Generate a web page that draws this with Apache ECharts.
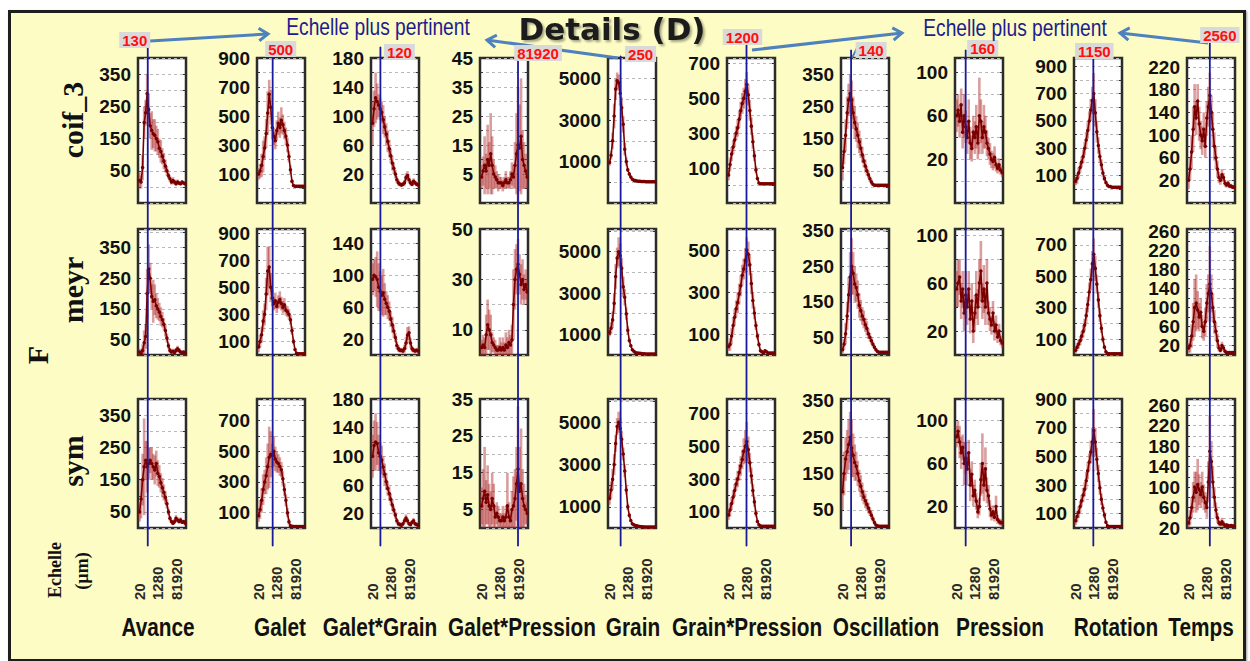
<!DOCTYPE html>
<html>
<head>
<meta charset="utf-8">
<title>Details (D)</title>
<script src="https://cdn.jsdelivr.net/npm/echarts@6/dist/echarts.min.js"></script>
<style>
  html, body { margin: 0; padding: 0; background: #ffffff; }
  #frame { position: absolute; left: 8px; top: 10px; width: 1232px; height: 646px;
           background: #fdfcc5; border: 3px solid #1e1e1e; box-shadow: 1px 1px 2px rgba(0,0,0,0.4); }
  #chart { position: absolute; left: 0; top: 0; width: 1250px; height: 661px; }
</style>
</head>
<body>
<div id="frame"></div>
<div id="chart"></div>
<script>
// ---- scales (µm) shared by every panel ----
const scales = [20, 28, 40, 57, 80, 113, 160, 226, 320, 453, 640, 905, 1280, 1810, 2560, 3620,
  5120, 7241, 10240, 14482, 20480, 28963, 40960, 57926, 81920, 115852, 163840, 231705, 327680, 463410, 655360];
const scaleTicks = [20, 1280, 81920];

const columns = ['Avance', 'Galet', 'Galet*Grain', 'Galet*Pression', 'Grain', 'Grain*Pression',
  'Oscillation', 'Pression', 'Rotation', 'Temps'];
const families = ['coif_3', 'meyr', 'sym'];
const bestScale = [130, 500, 120, 81920, 250, 1200, 140, 160, 1150, 2560];

// ---- F per scale : mean and error, one pair per factor and wavelet ----
const avanceCoif = [20,15,60,200,230,290,240,190,175,165,160,150,140,120,110,95,80,65,50,35,25,15,20,15,10,15,12,10,15,12,10];
const avanceCoifErr = [25,20,40,50,40,60,50,40,60,45,50,40,40,30,35,25,25,20,15,10,10,8,10,8,6,8,6,5,6,5,5];
const avanceMeyr = [10,5,15,40,60,200,280,250,190,175,180,160,150,140,125,115,100,80,55,30,15,10,12,8,15,20,15,10,8,10,6];
const avanceMeyrErr = [10,8,20,40,40,80,80,50,40,70,50,40,35,30,30,25,20,20,15,10,8,6,8,6,8,10,8,6,5,5,4];
const avanceSym = [50,90,150,190,210,190,200,210,200,190,180,200,170,160,140,125,110,95,75,50,30,20,15,20,30,25,20,25,18,20,15];
const avanceSymErr = [30,60,80,150,60,80,50,40,50,40,45,40,40,35,30,30,25,20,15,10,8,6,6,8,10,8,6,8,5,5,5];

const galetCoif = [100,120,160,220,280,380,520,650,560,420,360,330,400,450,420,470,440,400,360,300,220,130,50,20,15,15,15,15,15,15,15];
const galetCoifErr = [40,50,80,110,80,100,150,100,120,80,60,60,70,80,70,90,70,60,60,50,40,30,15,8,5,5,5,5,5,5,5];
const galetMeyr = [60,100,150,250,300,450,620,650,500,420,380,400,360,390,410,380,350,370,330,320,300,260,180,100,40,12,10,10,10,10,10];
const galetMeyrErr = [40,50,60,80,80,120,180,150,100,60,50,60,50,50,60,50,45,50,40,40,40,35,30,20,10,5,4,4,4,4,4];
const galetSym = [80,120,180,250,300,340,400,460,480,470,500,450,430,420,400,380,320,250,180,100,40,15,12,10,10,10,10,10,10,10,10];
const galetSymErr = [40,60,80,100,80,120,150,200,150,80,100,80,70,60,60,50,50,40,40,30,20,8,5,5,5,5,5,5,5,5,5];

const galetGrainCoif = [90,110,125,120,115,110,105,95,85,75,65,55,45,35,28,20,12,8,6,5,6,8,15,18,12,8,6,10,8,6,5];
const galetGrainCoifErr = [30,25,35,25,15,15,15,20,15,15,15,12,10,10,8,6,5,4,3,3,3,4,6,6,5,4,3,4,3,3,3];
const galetGrainMeyr = [95,100,98,95,85,80,75,78,70,65,60,55,45,38,30,22,12,8,6,6,5,8,15,25,28,15,8,6,5,6,5];
const galetGrainMeyrErr = [20,20,25,35,30,25,25,30,20,15,15,12,10,10,8,6,5,4,3,3,3,5,8,10,8,6,4,3,3,3,3];
const galetGrainSym = [100,115,120,118,105,100,95,85,75,65,55,48,40,32,25,18,10,6,5,4,6,10,14,10,6,5,8,10,6,5,4];
const galetGrainSymErr = [30,35,40,30,25,20,20,15,15,12,10,10,8,8,6,5,4,3,3,3,3,4,5,4,3,3,3,4,3,3,3];

const galetPressCoif = [4,6,8,6,10,8,12,8,5,4,3,2,2,2,1,2,3,2,2,3,5,4,8,12,15,14,18,10,8,6,4];
const galetPressCoifErr = [4,5,10,6,12,8,14,10,5,4,3,3,2,2,2,2,3,2,2,3,4,4,8,14,20,15,20,10,8,6,4];
const galetPressMeyr = [3,4,3,8,12,10,8,5,4,3,2,2,3,2,3,2,4,3,5,4,6,20,30,34,36,32,28,30,26,28,25];
const galetPressMeyrErr = [3,4,4,8,10,8,8,4,3,3,2,2,4,3,4,3,5,4,5,4,6,14,12,10,10,8,8,8,6,6,5];
const galetPressSym = [6,8,10,7,9,6,5,8,6,3,4,3,2,2,3,2,3,6,3,2,5,6,8,12,16,10,12,8,6,5,4];
const galetPressSymErr = [5,8,12,6,8,6,5,7,6,3,3,3,2,2,3,2,3,9,4,3,5,8,8,10,17,12,15,8,6,4,3];

const grainCoif = [950,1300,2000,3200,4500,4900,4800,4300,3600,2800,1600,1000,600,400,250,150,100,80,60,50,50,40,40,40,30,30,30,30,30,30,30];
const grainCoifErr = [150,200,400,600,500,400,400,600,500,400,300,200,100,80,50,30,20,15,10,10,10,10,10,10,10,10,10,10,10,10,10];
const grainMeyr = [1100,1300,1700,2500,3800,4700,5000,4800,4200,3300,2800,2000,1200,700,450,250,180,120,100,90,80,70,60,60,50,50,50,50,50,50,50];
const grainMeyrErr = [200,300,400,500,600,500,700,600,500,500,400,300,200,100,60,40,30,20,15,10,10,10,10,10,10,10,10,10,10,10,10];
const grainSym = [1400,1800,2300,3000,4000,4800,5000,4700,4200,3500,2700,1800,1000,600,350,200,150,120,100,80,70,60,60,50,50,50,50,50,50,50,50];
const grainSymErr = [300,400,500,500,400,400,500,500,400,300,300,200,150,100,50,30,20,15,10,10,10,10,10,10,10,10,10,10,10,10,10];

const grainPressCoif = [60,120,180,220,260,300,330,380,430,470,500,540,580,520,430,340,250,170,90,40,15,10,10,10,10,10,10,10,10,10,10];
const grainPressCoifErr = [30,40,40,40,40,40,50,50,50,60,60,70,70,60,60,50,40,30,20,10,5,4,4,4,4,4,4,4,4,4,4];
const grainPressMeyr = [40,50,90,140,180,220,250,290,330,380,410,450,500,480,430,340,260,200,140,90,50,20,15,10,20,15,10,10,10,10,10];
const grainPressMeyrErr = [20,30,40,40,40,40,50,50,50,50,50,60,60,60,50,50,40,30,20,15,10,6,5,4,8,5,4,4,4,4,4];
const grainPressSym = [80,110,150,190,230,270,300,340,380,420,470,500,530,480,400,320,230,160,90,40,20,12,10,10,10,10,10,10,10,10,10];
const grainPressSymErr = [30,40,40,40,40,40,50,50,60,60,80,100,120,80,60,50,40,30,20,10,6,4,4,4,4,4,4,4,4,4,4];

const oscCoif = [60,110,160,230,270,290,270,230,200,180,160,140,120,100,80,65,50,38,25,15,8,5,5,5,5,5,5,5,5,5,5];
const oscCoifErr = [40,40,50,50,50,60,60,50,50,40,40,35,30,25,20,20,15,12,10,8,5,3,3,3,3,3,3,3,3,3,3];
const oscMeyr = [15,30,60,110,170,220,250,230,200,190,170,140,125,110,100,85,75,60,50,40,30,22,15,10,8,8,8,8,8,8,8];
const oscMeyrErr = [10,15,30,40,50,70,80,60,50,40,40,35,30,25,25,20,20,15,12,10,8,6,5,4,3,3,3,3,3,3,3];
const oscSym = [100,150,190,210,230,250,220,200,180,170,150,130,115,100,85,75,65,55,45,35,25,15,8,6,5,5,5,5,5,5,5];
const oscSymErr = [50,60,60,60,70,70,80,60,50,40,35,30,30,25,20,20,15,15,12,10,8,6,4,3,3,3,3,3,3,3,3];

const pressCoif = [60,65,55,70,45,60,50,40,55,35,30,45,40,50,35,60,55,40,50,45,35,30,25,20,18,22,15,12,15,10,8];
const pressCoifErr = [15,15,15,15,15,20,15,15,20,15,12,15,15,20,15,35,20,15,20,15,12,10,10,8,8,10,6,5,6,4,4];
const pressMeyr = [55,60,65,45,55,35,50,40,55,30,45,20,35,50,40,60,70,45,55,40,60,35,30,25,35,20,25,15,20,12,10];
const pressMeyrErr = [15,20,15,15,15,15,20,15,15,12,15,10,15,20,15,20,25,15,20,15,20,10,10,8,10,8,8,5,6,4,4];
const pressSym = [85,90,80,70,75,60,65,55,70,40,50,30,35,25,15,20,45,60,40,55,35,30,18,12,15,10,20,8,6,5,5];
const pressSymErr = [10,10,15,15,12,20,15,15,12,15,12,10,10,8,6,8,15,28,15,20,12,10,8,5,6,4,10,4,3,3,3];

const rotCoif = [60,80,120,160,200,240,300,360,430,500,580,650,700,560,420,320,240,180,120,80,50,30,20,20,15,15,15,15,15,15,15];
const rotCoifErr = [30,40,40,40,40,50,50,60,60,70,80,100,150,100,80,60,50,40,30,20,15,10,5,5,5,5,5,5,5,5,5];
const rotMeyr = [30,50,70,90,120,150,190,250,320,400,480,580,640,550,450,350,250,170,100,50,20,10,8,8,8,8,8,8,8,8,8];
const rotMeyrErr = [20,25,30,30,30,40,40,50,50,60,70,80,100,80,60,50,40,30,20,10,6,4,3,3,3,3,3,3,3,3,3];
const rotSym = [50,80,110,150,190,230,270,330,400,460,530,600,680,600,480,380,280,200,140,90,40,15,10,10,10,10,10,10,10,10,10];
const rotSymErr = [30,40,40,40,40,50,50,60,60,60,80,100,150,100,80,60,50,40,30,20,10,5,4,4,4,4,4,4,4,4,4];

const tempsCoif = [20,40,70,110,150,130,160,120,100,90,110,80,130,150,170,140,110,80,60,40,25,20,30,25,15,12,15,10,10,8,8];
const tempsCoifErr = [15,20,30,40,40,30,30,30,25,25,30,20,30,35,40,30,30,25,20,15,10,8,10,8,6,5,5,4,4,3,3];
const tempsMeyr = [15,20,40,70,100,110,95,80,90,60,50,70,110,130,150,130,100,70,50,30,15,10,20,15,8,5,5,5,5,5,5];
const tempsMeyrErr = [10,15,25,40,60,60,40,30,30,25,20,30,40,40,80,40,30,25,20,15,8,5,8,6,4,3,3,3,3,3,3];
const tempsSym = [30,40,60,80,100,90,105,95,85,100,80,70,60,110,170,150,110,80,55,40,30,28,32,28,25,26,25,24,25,24,24];
const tempsSymErr = [10,15,20,30,30,40,50,30,25,30,25,20,20,40,70,40,30,20,15,10,6,5,8,6,4,4,3,3,3,3,3];

// ---- y axis extents [min, max, step] and the tick labels shown ----
const yRangeCoif = [[-50,400,50],[-100,900,100],[-20,180,20],[-5,45,5],[-1000,6000,1000],[-100,730,100],[-50,400,50],[-20,113,20],[-100,960,100],[-20,236,20]];
const yRangeMeyr = [[0,410,50],[0,930,100],[0,158,20],[0,50,10],[0,6100,1000],[0,600,100],[0,355,50],[0,105,20],[0,800,100],[0,266,20]];
const yRangeSym = [[0,400,50],[0,840,100],[0,180,20],[0,35,5],[0,6100,1000],[0,790,100],[0,355,50],[0,120,20],[0,900,100],[20,272,20]];

const yLabelsCoif = [[50,150,250,350],[100,300,500,700,900],[20,60,100,140,180],[5,15,25,35,45],[1000,3000,5000],[100,300,500,700],[50,150,250,350],[20,60,100],[100,300,500,700,900],[20,60,100,140,180,220]];
const yLabelsMeyr = [[50,150,250,350],[100,300,500,700,900],[20,60,100,140],[10,30,50],[1000,3000,5000],[100,300,500],[50,150,250,350],[20,60,100],[100,300,500,700],[20,60,100,140,180,220,260]];
const yLabelsSym = [[50,150,250,350],[100,300,500,700],[20,60,100,140,180],[5,15,25,35],[1000,3000,5000],[100,300,500,700],[50,150,250,350],[20,60,100],[100,300,500,700,900],[20,60,100,140,180,220,260]];

// ---- layout ----
const colLeft = [138, 257, 371, 480, 608, 727, 841, 955, 1074, 1187];
const colTitleX = [158, 280, 380, 522, 633, 747, 886, 1000, 1116, 1201];
const panelW = 48;
const rowTop = [58, 229, 399];
const rowH = [145, 126, 129];
const rowLabelY = [120, 290, 461];
const lineTop = [46, 52, 47, 52, 56, 45, 50, 50, 52, 42];
const lineBottom = 546;
const labelOffset = [[-13,-6],[8,-3],[19,5],[20,1],[20,-2],[-4,-8],[20,0],[17,-2],[1,-1],[10,-7]];
const X_MIN = 14, X_MAX = 800000;

const rows = [
  { ranges: yRangeCoif, labels: yLabelsCoif,
    means: [avanceCoif, galetCoif, galetGrainCoif, galetPressCoif, grainCoif, grainPressCoif, oscCoif, pressCoif, rotCoif, tempsCoif],
    errs: [avanceCoifErr, galetCoifErr, galetGrainCoifErr, galetPressCoifErr, grainCoifErr, grainPressCoifErr, oscCoifErr, pressCoifErr, rotCoifErr, tempsCoifErr] },
  { ranges: yRangeMeyr, labels: yLabelsMeyr,
    means: [avanceMeyr, galetMeyr, galetGrainMeyr, galetPressMeyr, grainMeyr, grainPressMeyr, oscMeyr, pressMeyr, rotMeyr, tempsMeyr],
    errs: [avanceMeyrErr, galetMeyrErr, galetGrainMeyrErr, galetPressMeyrErr, grainMeyrErr, grainPressMeyrErr, oscMeyrErr, pressMeyrErr, rotMeyrErr, tempsMeyrErr] },
  { ranges: yRangeSym, labels: yLabelsSym,
    means: [avanceSym, galetSym, galetGrainSym, galetPressSym, grainSym, grainPressSym, oscSym, pressSym, rotSym, tempsSym],
    errs: [avanceSymErr, galetSymErr, galetGrainSymErr, galetPressSymErr, grainSymErr, grainPressSymErr, oscSymErr, pressSymErr, rotSymErr, tempsSymErr] }
];

const SANS = "'Liberation Sans', Arial, sans-serif";
const SERIF = "'Liberation Serif', serif";
const DARK_RED = '#7a0000';
const NAVY = '#1a1a9c';

const grid = [], xAxis = [], yAxis = [], series = [];

rows.forEach(function (row, r) {
  columns.forEach(function (col, c) {
    const gi = grid.length;
    const rng = row.ranges[c];
    const shown = row.labels[c];
    grid.push({
      left: colLeft[c], top: rowTop[r], width: panelW, height: rowH[r],
      show: true, backgroundColor: '#ffffff', borderColor: '#2b2b2b', borderWidth: 2.5,
      containLabel: false, outerBoundsMode: 'none'
    });
    xAxis.push({
      gridIndex: gi, type: 'log', logBase: 2, min: X_MIN, max: X_MAX,
      axisLine: { show: false }, axisTick: { show: false }, splitLine: { show: false },
      axisLabel: r === 2 ? {
        show: true, customValues: scaleTicks, rotate: 90, align: 'left', margin: 72,
        fontSize: 15, fontWeight: 'bold', fontFamily: SANS, color: '#2a2a2a',
        formatter: function (v) { return String(Math.round(v)); }
      } : { show: false }
    });
    const yCommon = {
      gridIndex: gi, type: 'value', min: rng[0], max: rng[1], interval: rng[2],
      axisLine: { show: false }
    };
    yAxis.push(Object.assign({}, yCommon, {
      position: 'left',
      axisTick: { show: true, inside: true, length: 3, lineStyle: { color: '#333', width: 1 } },
      splitLine: { show: true, lineStyle: { type: [3, 3], color: '#b8b8b8', width: 1 } },
      axisLabel: {
        show: true, margin: 7, fontSize: 19, fontWeight: 'bold', fontFamily: SANS, color: '#111',
        showMinLabel: true, showMaxLabel: true,
        formatter: function (v) { return shown.indexOf(v) >= 0 ? String(v) : ''; }
      }
    }));
    yAxis.push(Object.assign({}, yCommon, {
      position: 'right',
      axisTick: { show: true, inside: true, length: 3, lineStyle: { color: '#333', width: 1 } },
      splitLine: { show: false }, axisLabel: { show: false }
    }));
    const mean = row.means[c], err = row.errs[c];
    // error bars
    series.push({
      type: 'custom', xAxisIndex: gi, yAxisIndex: gi * 2, silent: true, z: 2, clip: true,
      encode: { x: 0, y: [1, 2] },
      data: scales.map(function (s, i) {
        return [s, Math.max(rng[0], mean[i] - err[i]), Math.min(rng[1], mean[i] + err[i])];
      }),
      renderItem: function (params, api) {
        const x = api.value(0);
        const a = api.coord([x, api.value(1)]);
        const b = api.coord([x, api.value(2)]);
        return { type: 'line', shape: { x1: a[0], y1: a[1], x2: b[0], y2: b[1] },
                 style: { stroke: 'rgba(176,40,40,0.45)', lineWidth: 2.6 } };
      }
    });
    // mean curve
    series.push({
      type: 'line', xAxisIndex: gi, yAxisIndex: gi * 2, silent: true, z: 3, clip: true,
      data: scales.map(function (s, i) { return [s, mean[i]]; }),
      symbol: 'circle', symbolSize: 3.5, showSymbol: true,
      itemStyle: { color: DARK_RED }, lineStyle: { color: DARK_RED, width: 1.6 }
    });
  });
});

// vertical markers of the most relevant scale, one per factor
columns.forEach(function (col, c) {
  const gi = grid.length;
  grid.push({ left: colLeft[c], top: lineTop[c], width: panelW, height: lineBottom - lineTop[c],
              show: false, containLabel: false, outerBoundsMode: 'none' });
  xAxis.push({ gridIndex: gi, type: 'log', logBase: 2, min: X_MIN, max: X_MAX, show: false });
  const yi = yAxis.length;
  yAxis.push({ gridIndex: gi, type: 'value', min: 0, max: 1, show: false });
  const v = bestScale[c];
  series.push({
    type: 'line', xAxisIndex: gi, yAxisIndex: yi, silent: true, z: 10, clip: false,
    symbol: 'circle', symbolSize: 1, showSymbol: true,
    itemStyle: { color: NAVY }, lineStyle: { color: NAVY, width: 1.8 },
    data: [
      { value: [v, 0], label: { show: false } },
      { value: [v, 1], label: {
          show: true, position: 'inside', offset: labelOffset[c],
          formatter: function (p) { return String(p.value[0]); },
          color: '#ff0f0f', fontSize: 15, fontWeight: 'bold', fontFamily: SANS,
          backgroundColor: '#d9d9d9', padding: [1, 3, 0, 3]
      } }
    ]
  });
});

// ---- annotation texts and arrows ----
const ARROW = '#4f81bd';
function arrow(x1, y1, x2, y2) {
  const ang = Math.atan2(y2 - y1, x2 - x1), L = 11, spread = 0.6;
  const p1 = [x2 - L * Math.cos(ang - spread), y2 - L * Math.sin(ang - spread)];
  const p2 = [x2 - L * Math.cos(ang + spread), y2 - L * Math.sin(ang + spread)];
  return [
    { type: 'line', z: 1, shape: { x1: x1, y1: y1, x2: x2, y2: y2 }, style: { stroke: ARROW, lineWidth: 3 } },
    { type: 'polyline', z: 1, shape: { points: [p1, [x2, y2], p2] }, style: { stroke: ARROW, lineWidth: 3, fill: null } }
  ];
}
function text(str, x, y, size, weight, family, color, rot, sx, extra) {
  return { type: 'text', x: x, y: y, rotation: rot || 0, scaleX: sx || 1, z: 20,
           style: Object.assign({ text: str, x: 0, y: 0, fontSize: size, fontWeight: weight, fontFamily: family,
                                  fill: color, align: 'center', verticalAlign: 'middle' }, extra || {}) };
}

const graphic = [].concat(
  arrow(150, 41, 268, 34),
  arrow(618, 58, 487, 40),
  arrow(752, 50, 902, 33),
  arrow(1208, 43, 1120, 33),
  [{ type: 'line', z: 1, shape: { x1: 852, y1: 58, x2: 858, y2: 46 }, style: { stroke: ARROW, lineWidth: 2 } }],
  [
    text('Details (D)', 612, 29, 31, 'bold', 'DejaVu Sans, sans-serif', '#1a1a1a', 0, 1,
         { lineHeight: 24, textShadowColor: 'rgba(0,0,0,0.35)', textShadowBlur: 2, textShadowOffsetX: 2, textShadowOffsetY: 2 }),
    text('Echelle plus pertinent', 378, 27, 24, 'normal', SANS, '#1c1c8e', 0, 0.8),
    text('Echelle plus pertinent', 1015, 28, 24, 'normal', SANS, '#1c1c8e', 0, 0.8),
    text('F', 37, 355, 30, 'bold', SERIF, '#111', Math.PI / 2),
    text('Echelle', 55, 570, 18, 'bold', SERIF, '#111', Math.PI / 2),
    text('(µm)', 82, 571, 18, 'bold', SERIF, '#111', Math.PI / 2)
  ],
  families.map(function (f, r) {
    return text(f, 72, rowLabelY[r], 30, 'bold', SERIF, '#111', Math.PI / 2);
  }),
  columns.map(function (col, c) {
    return text(col, colTitleX[c], 627, 26, 'bold', SANS, '#111', 0, 0.8);
  })
);

const chart = echarts.init(document.getElementById('chart'), null, { renderer: 'svg', width: 1250, height: 661 });
chart.setOption({
  animation: false,
  backgroundColor: 'transparent',
  grid: grid, xAxis: xAxis, yAxis: yAxis, series: series,
  graphic: graphic
});
</script>
</body>
</html>
